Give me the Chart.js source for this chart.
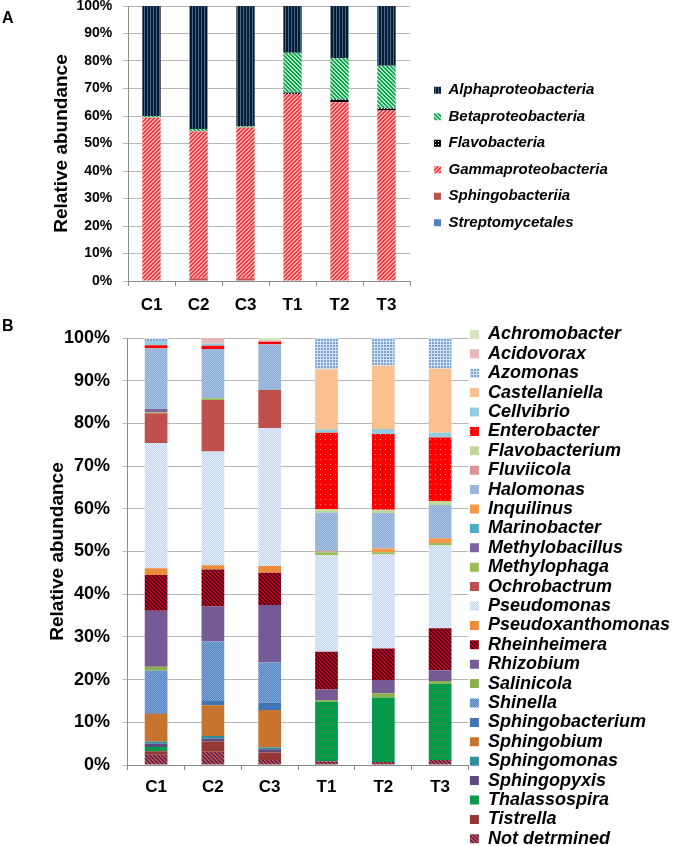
<!DOCTYPE html>
<html>
<head>
<meta charset="utf-8">
<script src="https://cdn.jsdelivr.net/npm/chart.js@4.4.1/dist/chart.umd.min.js"></script>
<style>
  html, body { margin: 0; padding: 0; background: #fff; overflow: hidden; width: 678px; height: 846px; }
  #wrap { position: relative; width: 678px; height: 846px; overflow: hidden; }
  canvas { position: absolute; left: 0; }
  .panel { position: absolute; left: 2px; font: bold 16px "Liberation Sans", Arial, sans-serif; line-height: 16px; }
</style>
</head>
<body>
<div id="wrap">
  <canvas id="chartA" width="700" height="313" style="top:0px"></canvas>
  <canvas id="chartB" width="700" height="528" style="top:324px"></canvas>
  <div class="panel" style="top:10px">A</div>
  <div class="panel" style="top:318px">B</div>
</div>
<script>
// datos comunes
const samples = ["C1", "C2", "C3", "T1", "T2", "T3"];
const yTitle = "Relative abundance";

// panel A: clases (orden de la leyenda)
const classNames = ["Alphaproteobacteria", "Betaproteobacteria", "Flavobacteria",
  "Gammaproteobacteria", "Sphingobacteriia", "Streptomycetales"];
const alphaproteobacteria = [40.0, 44.7, 43.7, 17.0, 19.0, 21.7];
const betaproteobacteria = [0.5, 0.8, 0.5, 14.5, 15.0, 15.5];
const flavobacteria = [0, 0, 0, 0.5, 1.0, 0.8];
const gammaproteobacteria = [59.5, 53.5, 54.8, 68.0, 65.0, 62.0];
const sphingobacteriia = [0, 1.0, 1.0, 0, 0, 0];
const streptomycetales = [0, 0, 0, 0, 0, 0];

// panel B: géneros (orden de la leyenda)
const genusNames = ["Achromobacter", "Acidovorax", "Azomonas", "Castellaniella", "Cellvibrio",
  "Enterobacter", "Flavobacterium", "Fluviicola", "Halomonas", "Inquilinus", "Marinobacter",
  "Methylobacillus", "Methylophaga", "Ochrobactrum", "Pseudomonas", "Pseudoxanthomonas",
  "Rheinheimera", "Rhizobium", "Salinicola", "Shinella", "Sphingobacterium", "Sphingobium",
  "Sphingomonas", "Sphingopyxis", "Thalassospira", "Tistrella", "Not detrmined"];
const achromobacter = [0, 0, 0.5, 0, 0, 0];
const acidovorax = [0, 1.3, 0.4, 0, 0, 0];
const azomonas = [0.7, 0, 0, 7.3, 6.5, 7.2];
const castellaniella = [0, 0, 0, 14.1, 14.8, 15.0];
const cellvibrio = [1.0, 0.5, 0, 0.8, 1.2, 1.1];
const enterobacter = [0.7, 0.8, 0.5, 17.9, 17.7, 14.9];
const flavobacterium = [0, 0, 0, 0.8, 0.8, 0.9];
const fluviicola = [0, 0, 0.2, 0, 0, 0];
const halomonas = [14.2, 11.5, 10.6, 9.1, 8.3, 7.8];
const inquilinus = [0, 0, 0, 0.2, 0.9, 1.1];
const marinobacter = [0, 0, 0, 0, 0, 0];
const methylobacillus = [0.8, 0, 0, 0, 0, 0];
const methylophaga = [0.2, 0.4, 0, 0.6, 0.5, 0.6];
const ochrobactrum = [7.0, 12.1, 8.9, 0, 0, 0];
const pseudomonas = [29.3, 26.6, 32.3, 22.7, 22.0, 19.4];
const pseudoxanthomonas = [1.6, 1.0, 1.6, 0, 0, 0];
const rheinheimera = [8.4, 8.7, 7.5, 8.8, 7.4, 9.8];
const rhizobium = [13.1, 8.2, 13.5, 2.5, 3.1, 2.5];
const salinicola = [0.9, 0, 0, 0.4, 1.0, 0.7];
const shinella = [9.9, 13.9, 9.4, 0, 0, 0];
const sphingobacterium = [0.2, 1.0, 1.7, 0, 0, 0];
const sphingobium = [6.5, 7.2, 8.8, 0, 0, 0];
const sphingomonas = [0.5, 0.6, 0.4, 0, 0, 0];
const sphingopyxis = [0.8, 0.7, 0.8, 0, 0, 0];
const thalassospira = [1.0, 0, 0, 13.9, 15.1, 17.8];
const tistrella = [0.8, 2.4, 1.7, 0, 0, 0];
const notDetermined = [2.4, 3.1, 1.2, 0.9, 0.7, 1.2];

const classSeries = [alphaproteobacteria, betaproteobacteria, flavobacteria,
  gammaproteobacteria, sphingobacteriia, streptomycetales];
const genusSeries = [achromobacter, acidovorax, azomonas, castellaniella, cellvibrio,
  enterobacter, flavobacterium, fluviicola, halomonas, inquilinus, marinobacter,
  methylobacillus, methylophaga, ochrobactrum, pseudomonas, pseudoxanthomonas,
  rheinheimera, rhizobium, salinicola, shinella, sphingobacterium, sphingobium,
  sphingomonas, sphingopyxis, thalassospira, tistrella, notDetermined];

Chart.defaults.font.family = '"Liberation Sans", Arial, Helvetica, sans-serif';
Chart.defaults.color = "#000";

/**
 * Crea una trama pequeña (como los rellenos de Excel)
 */
function makePattern(ctx, bg, fg, kind, size) {
  const tile = document.createElement("canvas");
  tile.width = size;
  tile.height = size;
  const g = tile.getContext("2d");
  g.fillStyle = bg;
  g.fillRect(0, 0, size, size);
  g.fillStyle = fg;
  for (let i = 0; i < size; i++) {
    if (kind === "vline") g.fillRect(0, i, 1, 1);
    if (kind === "diagUp") {
      g.fillRect((size - 1 - i) % size, i, 1, 1);
      g.fillRect((size - i) % size, i, 1, 1);
    }
    if (kind === "diagDown") {
      g.fillRect(i, i, 1, 1);
      g.fillRect((i + 1) % size, i, 1, 1);
    }
  }
  if (kind === "check") { g.fillRect(0, 0, 1, 1); g.fillRect(1, 1, 1, 1); }
  if (kind === "dot") g.fillRect(0, 0, 1, 1);
  if (kind === "square") g.fillRect(0, 0, 2, 2);
  return ctx.createPattern(tile, "repeat");
}

// escalas auxiliares sin dibujo, sólo para reservar espacio
function spacer(position, size) {
  return {
    type: "linear",
    position: position,
    display: true,
    grid: { display: false },
    border: { display: false },
    ticks: { display: false },
    afterFit(s) {
      if (position === "top" || position === "bottom") s.height = size;
      else s.width = size;
    },
  };
}

function axes(opt) {
  return {
    x: {
      stacked: true,
      offset: true,
      grid: { display: true, drawOnChartArea: false, drawTicks: true, tickLength: 5, offset: true, color: "#8a8a8a" },
      border: { display: true, color: "#8a8a8a" },
      ticks: { font: { size: 17, weight: "bold" }, color: "#000", padding: opt.xPad },
      afterFit(s) { s.height = opt.xHeight; s.paddingLeft = 0; s.paddingRight = 0; },
    },
    y: {
      stacked: true,
      min: 0,
      max: 100,
      ticks: {
        stepSize: 10,
        callback: (v) => v + "%",
        font: { size: opt.yFont, weight: "bold" },
        color: "#000",
        padding: opt.yPad,
      },
      grid: { color: "#b8b8b8", tickLength: 5 },
      border: { display: true, color: "#8a8a8a" },
      title: { display: true, text: yTitle, font: { size: 19, weight: "bold" }, color: "#000", padding: { top: 0, bottom: 0 } },
      afterFit(s) { s.width = opt.yWidth; s.paddingTop = 0; s.paddingBottom = 0; },
    },
  };
}

// mueve la leyenda a su sitio ajustando el margen derecho
function placeLegend(chart, cfg, targetLeft) {
  const delta = chart.legend.left - targetLeft;
  cfg.options.layout.padding.right += delta;
  chart.update();
}

// ---------- Gráfico A ----------
function initChartA() {
  const canvas = document.getElementById("chartA");
  const ctx = canvas.getContext("2d");
  const fills = [
    makePattern(ctx, "#0b1c30", "#3d6a94", "vline", 3),
    makePattern(ctx, "#a6e4bd", "#12a04e", "diagDown", 4),
    makePattern(ctx, "#000000", "#ffffff", "dot", 3),
    makePattern(ctx, "#ffaaaa", "#ee3840", "diagUp", 4),
    "#c0504d",
    "#4f81bd",
  ];
  // se apilan de abajo hacia arriba: orden inverso de la leyenda
  const datasets = classNames.map((name, i) => ({
    label: name,
    data: classSeries[i],
    backgroundColor: fills[i],
    borderWidth: 0,
    categoryPercentage: 1,
    barPercentage: 0.39,
    xAxisID: "x",
    yAxisID: "y",
  })).reverse();

  const scales = axes({ xPad: 8.8, xHeight: 32, yFont: 14, yPad: 10.7, yWidth: 78 });
  scales.padTop = spacer("top", 6);
  scales.padRight = spacer("right", 12.5);

  const cfg = {
    type: "bar",
    data: { labels: samples, datasets: datasets },
    options: {
      responsive: false,
      devicePixelRatio: 1,
      animation: false,
      layout: { padding: { left: 50, right: 80, top: 0, bottom: 0 } },
      plugins: {
        legend: {
          position: "right",
          align: "center",
          reverse: true,
          maxWidth: 400,
          labels: { boxWidth: 7, boxHeight: 7, padding: 11.5, color: "#000", font: { size: 15, weight: "bold", style: "italic" } },
        },
        tooltip: { enabled: false },
      },
      scales: scales,
    },
  };
  const chart = new Chart(ctx, cfg);
  placeLegend(chart, cfg, 422.5);
}

// ---------- Gráfico B ----------
function initChartB() {
  const canvas = document.getElementById("chartB");
  const ctx = canvas.getContext("2d");
  const fills = [
    "#d7e4bd",
    "#e6b9b8",
    makePattern(ctx, "#d3e0f1", "#7ba2d5", "square", 3),
    "#fac090",
    "#93cddd",
    makePattern(ctx, "#ff0000", "#ff9090", "dot", 5),
    "#c3d69b",
    "#d99694",
    makePattern(ctx, "#8dadd6", "#a8c1e3", "check", 2),
    "#f79646",
    "#4bacc6",
    "#8064a2",
    "#9bbb59",
    "#c0504d",
    makePattern(ctx, "#c2d5ee", "#e6eef9", "check", 2),
    "#ec8c3a",
    makePattern(ctx, "#c8001e", "#420818", "diagDown", 4),
    "#755a95",
    "#8db04f",
    makePattern(ctx, "#4f81bd", "#86aadb", "check", 2),
    "#3f74b5",
    "#c8732e",
    "#2f8ea0",
    "#5f4a7f",
    makePattern(ctx, "#00a54f", "#0b8c44", "check", 2),
    "#953735",
    makePattern(ctx, "#5a2450", "#c0504d", "diagDown", 4),
  ];
  const datasets = genusNames.map((name, i) => ({
    label: name,
    data: genusSeries[i],
    backgroundColor: fills[i],
    borderWidth: 0,
    categoryPercentage: 1,
    barPercentage: 0.4,
    xAxisID: "x",
    yAxisID: "y",
  })).reverse();

  const scales = axes({ xPad: 7.3, xHeight: 87, yFont: 18, yPad: 12.7, yWidth: 81.7 });
  scales.padTop = spacer("top", 14);

  const cfg = {
    type: "bar",
    data: { labels: samples, datasets: datasets },
    options: {
      responsive: false,
      devicePixelRatio: 1,
      animation: false,
      layout: { padding: { left: 46, right: 20, top: 0, bottom: 0 } },
      plugins: {
        legend: {
          position: "right",
          align: "start",
          reverse: true,
          maxWidth: 400,
          labels: { boxWidth: 9, boxHeight: 9, padding: 1.4, color: "#000", font: { size: 18, weight: "bold", style: "italic" } },
        },
        tooltip: { enabled: false },
      },
      scales: scales,
    },
  };
  const chart = new Chart(ctx, cfg);
  placeLegend(chart, cfg, 468.5);
}

initChartA();
initChartB();
</script>
</body>
</html>
